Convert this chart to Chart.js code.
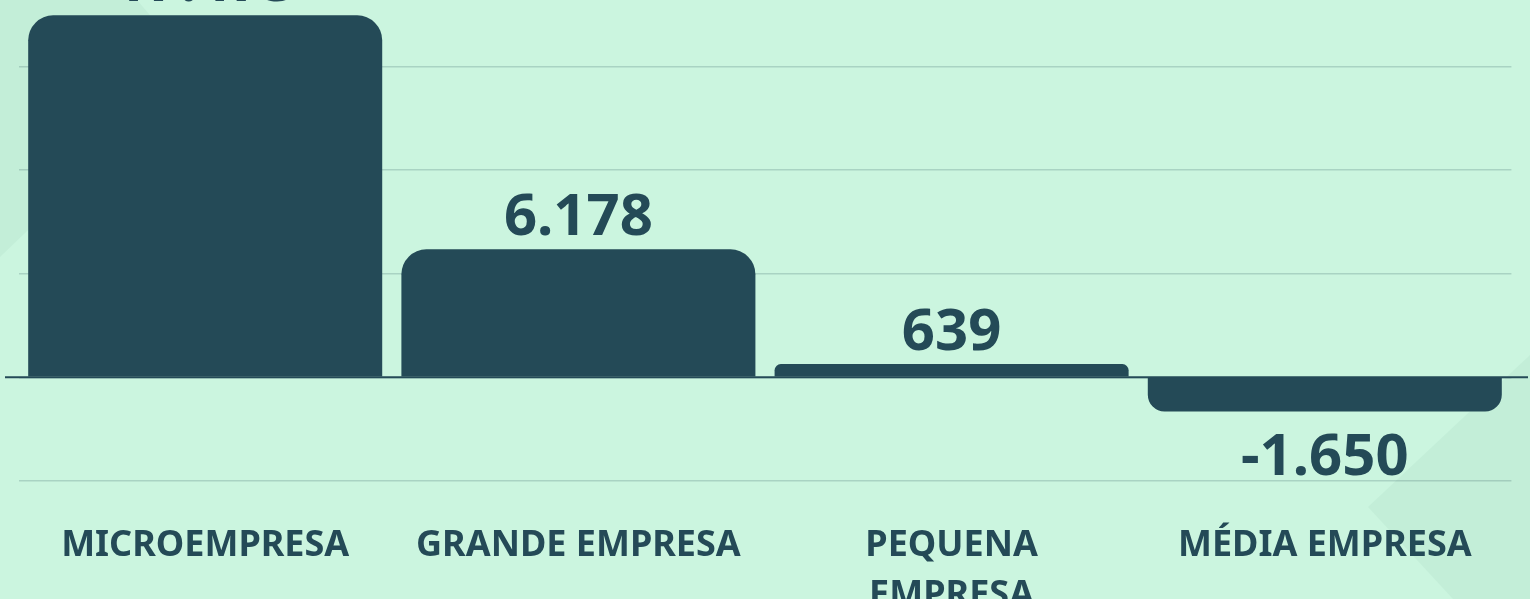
<!DOCTYPE html>
<html lang="pt-BR">
<head>
<meta charset="utf-8">
<title>Saldo de empregos por porte de empresa</title>
<script src="https://cdn.jsdelivr.net/npm/chart.js@4.4.1/dist/chart.umd.min.js"></script>
<style>
  html, body {
    margin: 0;
    padding: 0;
    width: 1530px;
    height: 599px;
    overflow: hidden;
    background: #cbf5df;
    position: relative;
  }
  .shape {
    position: absolute;
    left: 0;
    top: 0;
    width: 1530px;
    height: 599px;
    background: #c3eed8;
  }
  .shape.left { clip-path: polygon(0 0, 137px 0, 196px 69px, 0 257px); }
  .shape.right { clip-path: polygon(1530px 355px, 1368px 507px, 1453px 599px, 1530px 599px); }
  #wrap {
    position: absolute;
    left: 0;
    top: -60px;
    width: 1530px;
    height: 721px;
  }
</style>
</head>
<body>
<div class="shape left"></div>
<div class="shape right"></div>
<div id="wrap"><canvas id="saldoChart"></canvas></div>
<script>
// categorias e valores (saldo)
const categorias = [['MICROEMPRESA'], ['GRANDE EMPRESA'], ['PEQUENA', 'EMPRESA'], ['MÉDIA EMPRESA']];
const saldos = [17473, 6178, 639, -1650];
const eixoMin = -5000;
const eixoMax = 20000;
const passo = 5000;

const corEscura = '#244a57';
const fmt = new Intl.NumberFormat('pt-BR');

// rótulos de valor em cima / embaixo das barras
const valueLabels = {
    id: 'valueLabels',
    afterDatasetsDraw(chart) {
        const ctx = chart.ctx;
        const meta = chart.getDatasetMeta(0);
        ctx.save();
        ctx.fillStyle = corEscura;
        ctx.font = 'bold 58px "Noto Sans"';
        ctx.textAlign = 'center';
        ctx.textBaseline = 'alphabetic';
        meta.data.forEach(function(bar, i) {
            const v = saldos[i];
            const y = v >= 0 ? bar.y - 14 : bar.y + 63;
            ctx.fillText(fmt.format(v), bar.x, y);
        });
        ctx.restore();
    }
};

// linha do zero, mais larga que a área do gráfico
const zeroLine = {
    id: 'zeroLine',
    afterDatasetsDraw(chart) {
        const ctx = chart.ctx;
        const y0 = chart.scales.y.getPixelForValue(0);
        ctx.save();
        ctx.strokeStyle = corEscura;
        ctx.lineWidth = 2;
        ctx.beginPath();
        ctx.moveTo(5, y0);
        ctx.lineTo(chart.width - 2, y0);
        ctx.stroke();
        ctx.restore();
    }
};

document.addEventListener('DOMContentLoaded', function() {
    const ctx = document.getElementById('saldoChart').getContext('2d');

    new Chart(ctx, {
        type: 'bar',
        data: {
            labels: categorias,
            datasets: [{
                data: saldos,
                backgroundColor: corEscura,
                borderRadius: 25,
                borderSkipped: 'start',
                barPercentage: 0.9486,
                categoryPercentage: 1
            }]
        },
        options: {
            responsive: true,
            maintainAspectRatio: false,
            animation: false,
            layout: {
                padding: { top: 23, left: 18.6, right: 18.6, bottom: 0 }
            },
            plugins: {
                legend: { display: false },
                tooltip: { enabled: false }
            },
            scales: {
                x: {
                    grid: { display: false, drawTicks: false },
                    border: { display: false },
                    ticks: {
                        color: corEscura,
                        padding: 40,
                        maxRotation: 0,
                        autoSkip: false,
                        font: { family: 'Noto Sans', size: 36, weight: 'bold', lineHeight: 1.39 }
                    }
                },
                y: {
                    min: eixoMin,
                    max: eixoMax,
                    grid: {
                        color: 'rgba(36, 73, 86, 0.2)',
                        lineWidth: 1.5,
                        drawTicks: false
                    },
                    border: { display: false },
                    ticks: { display: false, stepSize: passo }
                }
            }
        },
        plugins: [valueLabels, zeroLine]
    });
});
</script>
</body>
</html>
